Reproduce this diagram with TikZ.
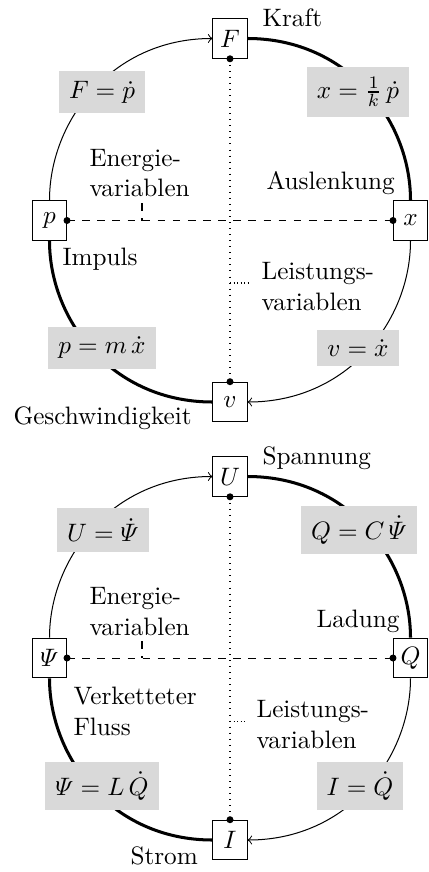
\documentclass[tikz,border=0pt]{standalone}
\usepackage{amsmath}
\begin{document}
\begin{tikzpicture}[x=0.3968pt,y=-0.3968pt,
  varbox/.style={draw, line width=0.4pt, minimum width=13.5pt, minimum height=15.7pt, inner sep=0pt},
  relbox/.style={fill=gray!30, inner sep=4pt},
  thinarc/.style={line width=0.4pt},
  thickarc/.style={line width=1.2pt},
  txt/.style={anchor=base west, inner sep=0pt, align=left},
  energyline/.style={dashed, line width=0.4pt},
  powerline/.style={dotted, line width=0.4pt},
  powerpin/.style={densely dotted, line width=0.4pt},
]
\useasboundingbox (0,0) rectangle (428,872);

% ---------------- mechanical ----------------
\node[varbox] (F) at (230,38.5) {$F$};
\node[varbox] (p) at (49.5,220.5) {$p$};
\node[varbox] (x) at (410.5,220.5) {$x$};
\node[varbox] (v) at (230,402) {$v$};

\draw[thinarc,->] (p.north) .. controls +(0,-80) and +(-100,0) .. (F.west);
\draw[thickarc] (F.east) .. controls +(100,0) and +(0,-80) .. (x.north);
\draw[thickarc] (p.south) .. controls +(0,80) and +(-100,0) .. (v.west);
\draw[thinarc,->] (x.south) .. controls +(0,80) and +(100,0) .. (v.east);

\draw[energyline] (p.east) -- (x.west);
\draw[powerline] (F.south) -- (v.north);
\fill (p.east) circle (3.5);
\fill (x.west) circle (3.5);
\fill (F.south) circle (3.5);
\fill (v.north) circle (3.5);

\coordinate (e1) at (142,220.5);
\coordinate (e1t) at (142,203);
\draw[energyline] (e1t) -- (e1);
\coordinate (l1) at (230,283);
\coordinate (l1e) at (251,283);
\draw[powerpin] (l1) -- (l1e);

\node[relbox] (r1) at (102,92) {$F = \dot p$};
\node[relbox] (r2) at (358,92) {$x = \frac{1}{k}\,\dot p$};
\node[relbox] (r3) at (102,348) {$p = m\,\dot x$};
\node[relbox] (r4) at (358,348) {$v = \dot x$};

\node[txt] (t1) at (262,27) {Kraft};
\node[txt] (t2) at (266,189) {Auslenkung};
\node[txt] (t3) at (62,265) {Impuls};
\node[txt] (t4) at (13,424) {Geschwindigkeit};
\node[txt] (t5) at (89,197) {Energie-\\variablen};
\node[txt] (t6) at (261,310) {Leistungs-\\variablen};

% ---------------- electrical ----------------
\node[varbox] (U) at (230,476.5) {$U$};
\node[varbox] (Psi) at (49.5,658) {$\varPsi$};
\node[varbox] (Q) at (410.5,658) {$Q$};
\node[varbox] (I) at (230,840) {$I$};

\draw[thinarc,->] (Psi.north) .. controls +(0,-80) and +(-100,0) .. (U.west);
\draw[thickarc] (U.east) .. controls +(100,0) and +(0,-80) .. (Q.north);
\draw[thickarc] (Psi.south) .. controls +(0,80) and +(-100,0) .. (I.west);
\draw[thinarc,->] (Q.south) .. controls +(0,80) and +(100,0) .. (I.east);

\draw[energyline] (Psi.east) -- (Q.west);
\draw[powerline] (U.south) -- (I.north);
\fill (Psi.east) circle (3.5);
\fill (Q.west) circle (3.5);
\fill (U.south) circle (3.5);
\fill (I.north) circle (3.5);

\coordinate (e2) at (142,658);
\coordinate (e2t) at (142,641);
\draw[energyline] (e2t) -- (e2);
\coordinate (l2) at (230,721);
\coordinate (l2e) at (245,721);
\draw[powerpin] (l2) -- (l2e);

\node[relbox] (s1) at (103,530) {$U = \dot{\varPsi}$};
\node[relbox] (s2) at (359,530) {$Q = C\,\dot{\varPsi}$};
\node[relbox] (s3) at (102,786) {$\varPsi = L\,\dot Q$};
\node[relbox] (s4) at (360,786) {$I = \dot Q$};

\node[txt] (u1) at (262,464) {Spannung};
\node[txt] (u2) at (316,627) {Ladung};
\node[txt] (u3) at (73,735) {Verketteter\\Fluss};
\node[txt] (u4) at (130,864) {Strom};
\node[txt] (u5) at (89,635) {Energie-\\variablen};
\node[txt] (u6) at (256,748) {Leistungs-\\variablen};
\end{tikzpicture}
\end{document}
